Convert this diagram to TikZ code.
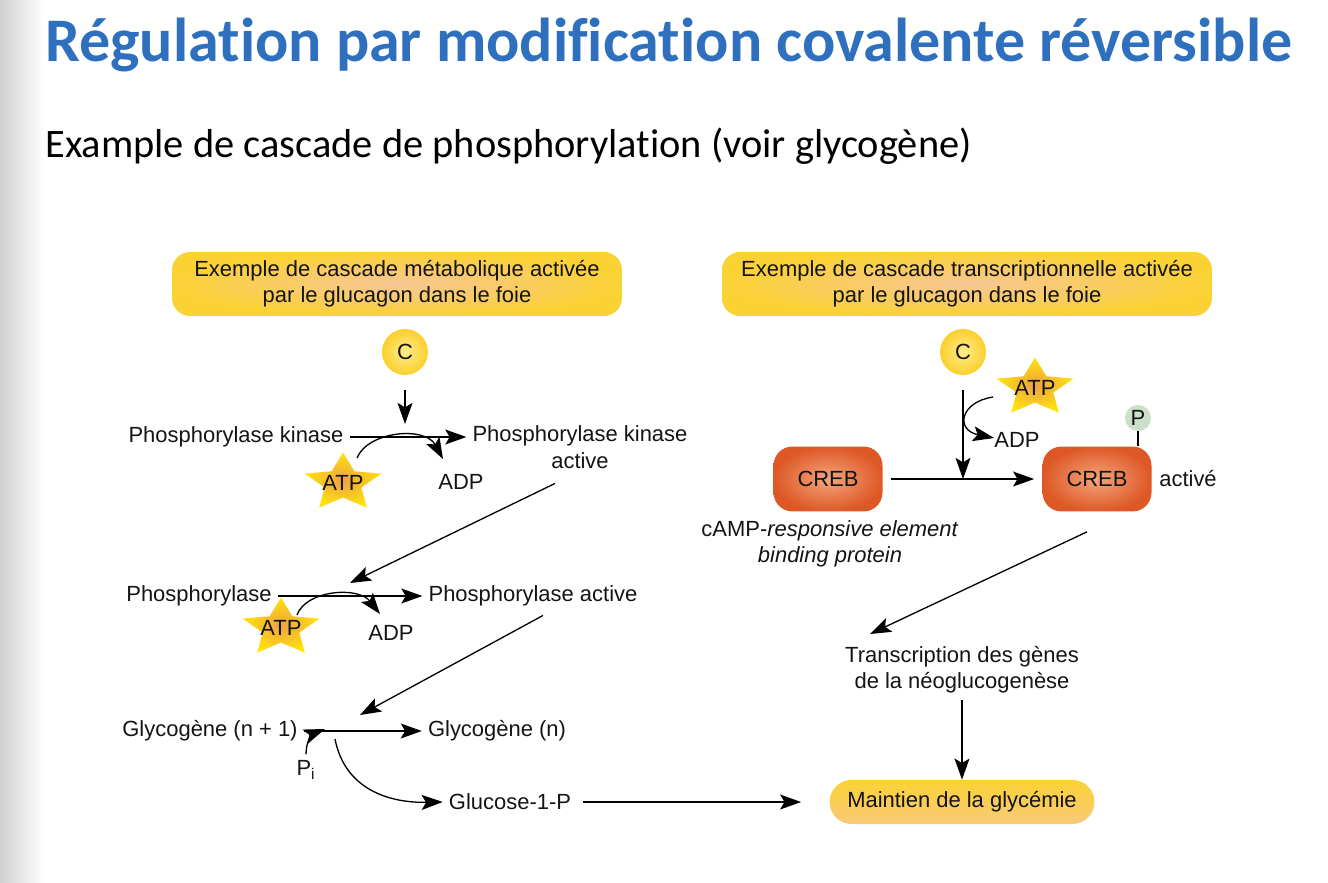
\documentclass[tikz,border=0pt]{standalone}
\usepackage{fontspec}
\setmainfont{Liberation Sans}
\newfontfamily\slidefont[Ligatures=NoCommon]{Carlito}
\usetikzlibrary{shapes.geometric, arrows.meta, positioning, calc}
\definecolor{titleblue}{RGB}{46,112,190}
\definecolor{hdyellow}{RGB}{251,210,52}
\definecolor{hdpeach}{RGB}{247,198,150}
\definecolor{cyellow}{RGB}{250,208,45}
\definecolor{cyellowlight}{RGB}{255,236,140}
\definecolor{crebdark}{RGB}{222,88,38}
\definecolor{creblight}{RGB}{244,165,125}
\definecolor{staryellow}{RGB}{255,228,10}
\definecolor{starorange}{RGB}{238,160,70}
\definecolor{pgreen}{RGB}{202,224,200}
\definecolor{inkgray}{RGB}{20,20,20}

\begin{document}
\begin{tikzpicture}[
    x=0.02cm, y=-0.02cm,
    every node/.style={font=\fontsize{12.5}{15}\selectfont, text=inkgray},
    headbox/.style={rectangle, rounded corners=0.36cm, inner color=hdpeach, outer color=hdyellow, minimum height=1.28cm, align=center},
    molec/.style={circle, inner color=cyellowlight, outer color=cyellow, minimum size=0.92cm, inner sep=0pt},
    crebbox/.style={rectangle, rounded corners=0.38cm, inner color=creblight, outer color=crebdark, minimum width=2.18cm, minimum height=1.3cm},
    atpstar/.style={star, star points=5, star point ratio=2.1, minimum size=1.22cm, inner sep=0pt, inner color=starorange, outer color=staryellow, xscale=1.33, transform shape},
    pbubble/.style={circle, fill=pgreen, minimum size=0.52cm, inner sep=0pt},
    endbox/.style={rectangle, rounded corners=0.44cm, top color=hdyellow, bottom color=hdpeach!70!hdyellow, minimum width=5.3cm, minimum height=0.88cm},
    arrow/.style={-{Stealth[length=12pt, width=8.5pt, inset=2.5pt]}, line width=0.75pt}
]
\useasboundingbox (0,0) rectangle (1328,882);
\shade[left color=black!18, right color=white] (0,0) rectangle (45,882);

% titles
\node[anchor=base west, inner sep=0pt, font=\slidefont\bfseries\fontsize{35.3}{42}\selectfont, text=titleblue] (title) at (45,62) {Régulation par modification covalente réversible};
\node[anchor=base west, inner sep=0pt, font=\slidefont\fontsize{23}{28}\selectfont, text=black] (subtitle) at (45,157) {Example de cascade de phosphorylation (voir glycogène)};

% metabolic cascade
\node[headbox, minimum width=9cm] (hdmeta) at (397,284) {Exemple de cascade métabolique activée\\par le glucagon dans le foie};
\node[molec] (cmeta) at (405,352) {C};
\node (pk) at (236,437) {Phosphorylase kinase};
\node[align=center] (pka) at (580,447) {Phosphorylase kinase\\active};
\node[atpstar] (atp1) at (343,483) {};
\node (atp1txt) at (atp1.center) {ATP};
\node (adp1) at (461,482) {ADP};
\node (ph) at (199,596) {Phosphorylase};
\node (pha) at (533,596) {Phosphorylase active};
\node[atpstar] (atp2) at (281,628) {};
\node (atp2txt) at (atp2.center) {ATP};
\node (adp2) at (391,633) {ADP};
\node (gn1) at (210,731) {Glycogène (n + 1)};
\node (gn) at (497,731) {Glycogène (n)};
\node (pi) at (306,770) {P\textsubscript{i}};
\node (g1p) at (510,802) {Glucose-1-P};

\coordinate (pkrx) at (405,435);
\coordinate (phrx) at (350,583);
\coordinate (gnrx) at (360,715);
\draw[arrow, shorten <=0.3cm, shorten >=0.22cm] (cmeta) -- (pkrx);
\draw[arrow] (pk.east) -- (pk.east -| pka.west);
\draw[arrow] (357,458) .. controls (368,431) and (425,426) .. (443,459);
\draw[arrow] ($(pka.south)+(-25,9)$) -- (phrx);
\draw[arrow] (ph.east) -- (ph.east -| pha.west);
\draw[arrow] (297,615) .. controls (306,590) and (358,586) .. (380,614);
\draw[arrow] ($(pha.south)+(10,3)$) -- (gnrx);
\draw[arrow] (gn1.east) -- (gn1.east -| gn.west);
\draw[arrow] (pi.north) .. controls (306,742) and (312,734) .. (325,729);
\draw[arrow] (335,739) .. controls (345,790) and (390,803) .. (g1p.west);

% transcriptional cascade
\node[headbox, minimum width=9.8cm] (hdtrans) at (967,284) {Exemple de cascade transcriptionnelle activée\\par le glucagon dans le foie};
\node[molec] (ctrans) at (963,352) {C};
\node[atpstar] (atp3) at (1035,388) {};
\node (atp3txt) at (atp3.center) {ATP};
\node (adp3) at (1017,440) {ADP};
\node[crebbox] (creb) at (828,479) {CREB};
\node[crebbox] (crebp) at (1097,479) {CREB};
\node[pbubble] (pbub) at (1138,418) {P};
\node (activ) at (1188,479) {activé};
\node[align=center] (crebname) at (830,544) {cAMP-\textit{responsive element}\\\textit{binding protein}};
\node[align=center] (transc) at (962,670) {Transcription des gènes\\de la néoglucogenèse};
\node[endbox] (maintien) at (962,802) {Maintien de la glycémie};

\coordinate (crebrx) at (963,479);
\draw[arrow, shorten <=0.3cm] (ctrans) -- (crebrx);
\draw[arrow, shorten <=0.16cm, shorten >=0.16cm] (creb) -- (crebp);
\draw[arrow] (993,397) .. controls (960,402) and (955,430) .. (994,438);
\draw[line width=0.75pt] (pbub) -- (pbub |- crebp.north);
\draw[arrow] ($(crebp.south)+(-10,20)$) -- (870,634);
\draw[arrow] (transc.south) -- (transc.south |- maintien.north);
\draw[arrow] (g1p.east) ++(6,0) -- ($(maintien.west)+(-28,0)$);
\end{tikzpicture}
\end{document}
